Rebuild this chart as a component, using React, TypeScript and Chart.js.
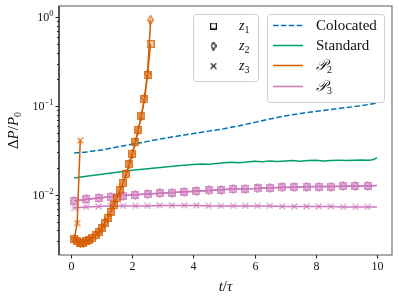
import React, { useEffect, useRef } from "react";
import { Chart, registerables } from "chart.js";
Chart.register(...registerables);

// ---------- data ----------
const P2_T = [0.1, 0.2, 0.3, 0.4, 0.5, 0.6, 0.7, 0.8, 0.9, 1.0, 1.1, 1.2, 1.3, 1.4, 1.5, 1.6, 1.7, 1.8, 1.9, 2.0, 2.1, 2.2, 2.3, 2.4, 2.5, 2.6];
const P2_Z1 = [0.0032, 0.0030, 0.0029, 0.0029, 0.0030, 0.0031, 0.0033, 0.0035, 0.0038, 0.0042, 0.0048, 0.0055, 0.0064, 0.0076, 0.0092, 0.0112, 0.0136, 0.0170, 0.0220, 0.0290, 0.0390, 0.0540, 0.0780, 0.120, 0.225, 0.50];
const P2_Z2 = [0.0032, 0.0030, 0.0029, 0.0029, 0.0030, 0.0031, 0.0033, 0.0035, 0.0038, 0.0042, 0.0048, 0.0055, 0.0064, 0.0076, 0.0092, 0.0112, 0.0136, 0.0170, 0.0220, 0.0290, 0.0390, 0.0540, 0.0780, 0.122, 0.230, 0.93];
const P2_Z3_T = [0.1, 0.2, 0.3];
const P2_Z3 = [0.0031, 0.0048, 0.041];

const P3_T = [0.1, 0.5, 0.9, 1.3, 1.7, 2.1, 2.5, 2.9, 3.3, 3.7, 4.1, 4.5, 4.9, 5.3, 5.7, 6.1, 6.5, 6.9, 7.3, 7.7, 8.1, 8.5, 8.9, 9.3, 9.7, 10.0];
const P3_Z1 = [0.0085, 0.0089, 0.0092, 0.0095, 0.0098, 0.0100, 0.0102, 0.0104, 0.0106, 0.0108, 0.0110, 0.0112, 0.0114, 0.0116, 0.0117, 0.0118, 0.0120, 0.0121, 0.0122, 0.0123, 0.0124, 0.0124, 0.0125, 0.0126, 0.0126, 0.0127];
const P3_Z2 = [0.0085, 0.0089, 0.0092, 0.0095, 0.0098, 0.0100, 0.0102, 0.0104, 0.0106, 0.0108, 0.0110, 0.0112, 0.0114, 0.0116, 0.0117, 0.0118, 0.0120, 0.0121, 0.0122, 0.0123, 0.0124, 0.0124, 0.0125, 0.0126, 0.0126, 0.0127];
const P3_Z3 = [0.0071, 0.0073, 0.0074, 0.0075, 0.0075, 0.0075, 0.0075, 0.0076, 0.0076, 0.0076, 0.0076, 0.0075, 0.0075, 0.0075, 0.0075, 0.0075, 0.0075, 0.0074, 0.0074, 0.0074, 0.0074, 0.0074, 0.0073, 0.0073, 0.0073, 0.0073];

const COLOC_T = [0.1, 0.5, 1.0, 1.5, 2.0, 2.5, 3.0, 3.5, 4.0, 4.5, 5.0, 5.5, 6.0, 6.5, 7.0, 7.5, 8.0, 8.5, 9.0, 9.5, 10.0];
const COLOCATED = [0.0296, 0.0303, 0.0320, 0.0345, 0.0372, 0.0400, 0.0430, 0.0460, 0.0490, 0.0522, 0.0555, 0.0600, 0.0655, 0.0715, 0.0775, 0.0825, 0.0870, 0.0915, 0.0960, 0.1010, 0.1080];

const STD_T = [0.1, 0.5, 1.0, 1.5, 2.0, 2.5, 3.0, 3.5, 4.0, 4.25, 4.5, 4.75, 5.0, 5.25, 5.5, 5.75, 6.0, 6.25, 6.5, 6.75, 7.0, 7.25, 7.5, 7.75, 8.0, 8.25, 8.5, 8.75, 9.0, 9.25, 9.5, 9.75, 9.9, 10.0];
const STANDARD = [0.0155, 0.0162, 0.0171, 0.0180, 0.0189, 0.0197, 0.0205, 0.0212, 0.0219, 0.0223, 0.0221, 0.0226, 0.0230, 0.0233, 0.0230, 0.0235, 0.0239, 0.0236, 0.0241, 0.0237, 0.0240, 0.0244, 0.0239, 0.0243, 0.0245, 0.0241, 0.0244, 0.0246, 0.0243, 0.0245, 0.0247, 0.0246, 0.0250, 0.0262];

const X_TICKS = [0, 2, 4, 6, 8, 10];
const Y_MAJOR = [0.01, 0.1, 1];
const Y_EXP = ["\u22122", "\u22121", "0"];
const X_MIN = -0.395, X_MAX = 10.495;
const Y_MIN = 0.0021, Y_MAX = 1.34;

const LINE_LABELS = ["Colocated", "Standard", "\uD835\uDCAB", "\uD835\uDCAB"];
const LINE_SUBS = ["", "", "2", "3"];
const MARKER_SUBS = ["1", "2", "3"];

const BLUE = "#0173b2", GREEN = "#029e73", ORANGE = "#d55e00", PINK = "#cc78bc";
const SERIF = "'Liberation Serif', serif";

function makeMarker(kind: string, color: string, fill: string | null, w: number, h: number, lw: number) {
  const c = document.createElement("canvas");
  c.width = w; c.height = h;
  const g = c.getContext("2d")!;
  g.strokeStyle = color; g.lineWidth = lw;
  g.beginPath();
  if (kind === "square") {
    g.rect(lw / 2, lw / 2, w - lw, h - lw);
  } else if (kind === "diamond") {
    g.moveTo(w / 2, lw / 2); g.lineTo(w - lw / 2, h / 2); g.lineTo(w / 2, h - lw / 2); g.lineTo(lw / 2, h / 2); g.closePath();
  } else {
    g.moveTo(lw / 2, lw / 2); g.lineTo(w - lw / 2, h - lw / 2);
    g.moveTo(w - lw / 2, lw / 2); g.lineTo(lw / 2, h - lw / 2);
  }
  if (fill && kind !== "cross") { g.fillStyle = fill; g.fill(); }
  g.stroke();
  return c;
}

function richWidth(ctx: CanvasRenderingContext2D, segs: any[]) {
  let w = 0;
  for (const s of segs) { ctx.font = s.font; w += ctx.measureText(s.text).width; }
  return w;
}
function drawRich(ctx: CanvasRenderingContext2D, x: number, y: number, segs: any[]) {
  let cx = x;
  for (const s of segs) {
    ctx.font = s.font;
    ctx.fillText(s.text, cx, y + (s.dy || 0));
    cx += ctx.measureText(s.text).width;
  }
}

let blackMarkers: any = null;

const decoPlugin = {
  id: "deco",
  afterDraw(chart: any) {
    const { ctx, chartArea: a, scales } = chart;
    const xs = scales.x, ys = scales.y;
    ctx.save();
    // frame
    ctx.lineWidth = 1.1;
    ctx.strokeStyle = "#666";
    ctx.strokeRect(a.left, a.top, a.right - a.left, a.bottom - a.top);
    ctx.strokeStyle = "#111";
    ctx.beginPath(); ctx.moveTo(a.left, a.top); ctx.lineTo(a.left, a.bottom); ctx.stroke();
    // x ticks
    ctx.fillStyle = "#111";
    ctx.strokeStyle = "#222";
    ctx.lineWidth = 1;
    ctx.textAlign = "center";
    ctx.textBaseline = "top";
    for (const v of X_TICKS) {
      const px = Math.round(xs.getPixelForValue(v)) + 0.5;
      ctx.beginPath(); ctx.moveTo(px, a.bottom); ctx.lineTo(px, a.bottom + 3.5); ctx.stroke();
      ctx.font = `12px ${SERIF}`;
      ctx.fillText(String(v), px, a.bottom + 5.5);
    }
    // y ticks
    for (let e = -3; e <= 0; e++) {
      for (let m = 1; m <= 9; m++) {
        const v = m * Math.pow(10, e);
        if (v < Y_MIN || v > Y_MAX) continue;
        const py = Math.round(ys.getPixelForValue(v)) + 0.5;
        const len = m === 1 ? 3.5 : 2;
        ctx.beginPath(); ctx.moveTo(a.left, py); ctx.lineTo(a.left - len, py); ctx.stroke();
      }
    }
    ctx.textAlign = "left";
    ctx.textBaseline = "alphabetic";
    Y_MAJOR.forEach((v, i) => {
      const py = ys.getPixelForValue(v);
      const segs = [
        { text: "10", font: `12px ${SERIF}`, dy: 0 },
        { text: Y_EXP[i], font: `8.5px ${SERIF}`, dy: -5 },
      ];
      const w = richWidth(ctx, segs);
      drawRich(ctx, a.left - 5.5 - w, py + 4, segs);
    });
    // axis titles
    const xl = [
      { text: "t", font: `italic 15px ${SERIF}` },
      { text: "/", font: `15px ${SERIF}` },
      { text: "\u03C4", font: `italic 15px ${SERIF}` },
    ];
    const xw = richWidth(ctx, xl);
    drawRich(ctx, (a.left + a.right) / 2 - xw / 2, 291, xl);
    const yl = [
      { text: "\u0394", font: `15px ${SERIF}` },
      { text: "P", font: `italic 15px ${SERIF}` },
      { text: "/", font: `15px ${SERIF}` },
      { text: "P", font: `italic 15px ${SERIF}` },
      { text: "0", font: `10px ${SERIF}`, dy: 3 },
    ];
    const yw = richWidth(ctx, yl);
    ctx.save();
    ctx.translate(18, (a.top + a.bottom) / 2);
    ctx.rotate(-Math.PI / 2);
    drawRich(ctx, -yw / 2, 0, yl);
    ctx.restore();

    // legend boxes
    const box = (x: number, y: number, w: number, h: number) => {
      ctx.beginPath();
      if ((ctx as any).roundRect) (ctx as any).roundRect(x + 0.5, y + 0.5, w, h, 3);
      else ctx.rect(x + 0.5, y + 0.5, w, h);
      ctx.fillStyle = "rgba(255,255,255,0.8)";
      ctx.fill();
      ctx.strokeStyle = "#d0d0d0";
      ctx.lineWidth = 1;
      ctx.stroke();
    };
    box(193, 14, 65, 67);
    box(267, 14, 117, 88);
    const rowsL = [26, 46, 66];
    const mk = blackMarkers;
    ["square", "diamond", "cross"].forEach((k, i) => {
      const c = mk[k];
      ctx.drawImage(c, 213.5 - c.width / 2, rowsL[i] - c.height / 2);
      ctx.fillStyle = "#111";
      drawRich(ctx, 239, rowsL[i] + 4, [
        { text: "z", font: `italic 14px ${SERIF}` },
        { text: MARKER_SUBS[i], font: `10px ${SERIF}`, dy: 3 },
      ]);
    });
    const rowsR = [25, 45, 65, 86];
    const cols = [BLUE, GREEN, ORANGE, PINK];
    rowsR.forEach((ry, i) => {
      ctx.strokeStyle = cols[i];
      ctx.lineWidth = 1.5;
      ctx.setLineDash(i === 0 ? [5.5, 2.4] : []);
      ctx.beginPath(); ctx.moveTo(273, ry + 0.5); ctx.lineTo(303, ry + 0.5); ctx.stroke();
      ctx.setLineDash([]);
      ctx.fillStyle = "#111";
      const segs: any[] = [{ text: LINE_LABELS[i], font: i < 2 ? `15px ${SERIF}` : `italic 15px 'DejaVu Serif', ${SERIF}` }];
      if (LINE_SUBS[i]) segs.push({ text: LINE_SUBS[i], font: `10px ${SERIF}`, dy: 3 });
      drawRich(ctx, 316, ry + 5, segs);
    });
    ctx.restore();
  },
};

export default function App() {
  const ref = useRef<HTMLCanvasElement | null>(null);
  useEffect(() => {
    blackMarkers = {
      square: makeMarker("square", "#111", null, 7, 7, 1.2),
      diamond: makeMarker("diamond", "#111", null, 6, 9, 1.2),
      cross: makeMarker("cross", "#111", null, 7, 7, 1.2),
    };
    const sq = (c: string) => makeMarker("square", c + "cc", c + "40", 8, 8, 1.2);
    const di = (c: string) => makeMarker("diamond", c + "cc", c + "40", 7, 10, 1.2);
    const cr = (c: string) => makeMarker("cross", c + "dd", null, 7, 7, 1.2);
    const pts = (t: number[], v: number[]) => t.map((x, i) => ({ x, y: v[i] }));
    const lastHidden = (n: number) => (ctx: any) => (ctx.dataIndex < n - 1 ? 3 : 0);
    const chart = new Chart(ref.current!, {
      type: "line",
      data: {
        datasets: [
          { data: pts(P2_T, P2_Z1), borderColor: ORANGE, borderWidth: 1.5, pointStyle: sq(ORANGE) as any, pointRadius: 3, order: 0 },
          { data: pts(P2_T, P2_Z2), borderColor: ORANGE, borderWidth: 1.5, pointStyle: di(ORANGE) as any, pointRadius: 3, order: 0 },
          { data: pts(P2_Z3_T, P2_Z3), borderColor: ORANGE, borderWidth: 1.5, pointStyle: cr(ORANGE) as any, pointRadius: 3, order: 0 },
          { data: pts(P3_T, P3_Z1), borderColor: PINK, borderWidth: 1.5, pointStyle: sq(PINK) as any, pointRadius: lastHidden(P3_T.length) as any, order: 1 },
          { data: pts(P3_T, P3_Z2), borderColor: PINK, borderWidth: 1.5, pointStyle: di(PINK) as any, pointRadius: lastHidden(P3_T.length) as any, order: 1 },
          { data: pts(P3_T, P3_Z3), borderColor: PINK, borderWidth: 1.5, pointStyle: cr(PINK) as any, pointRadius: lastHidden(P3_T.length) as any, order: 1 },
          { data: pts(STD_T, STANDARD), borderColor: GREEN, borderWidth: 1.5, pointRadius: 0, order: 2 },
          { data: pts(COLOC_T, COLOCATED), borderColor: BLUE, borderWidth: 1.5, borderDash: [5.5, 2.4], pointRadius: 0, order: 3 },
        ],
      },
      options: {
        animation: false,
        responsive: false,
        devicePixelRatio: 1,
        layout: { padding: { left: 59, top: 6, right: 7, bottom: 45 } },
        plugins: { legend: { display: false }, tooltip: { enabled: false } },
        elements: { line: { tension: 0 } },
        scales: {
          x: { type: "linear", min: X_MIN, max: X_MAX, display: false },
          y: { type: "logarithmic", min: Y_MIN, max: Y_MAX, display: false },
        },
      },
      plugins: [decoPlugin],
    });
    return () => chart.destroy();
  }, []);
  return (
    <div style={{ position: "absolute", left: 0, top: 0, width: 399, height: 300, background: "#fff" }}>
      <canvas ref={ref} width={399} height={300} style={{ display: "block" }} />
    </div>
  );
}
